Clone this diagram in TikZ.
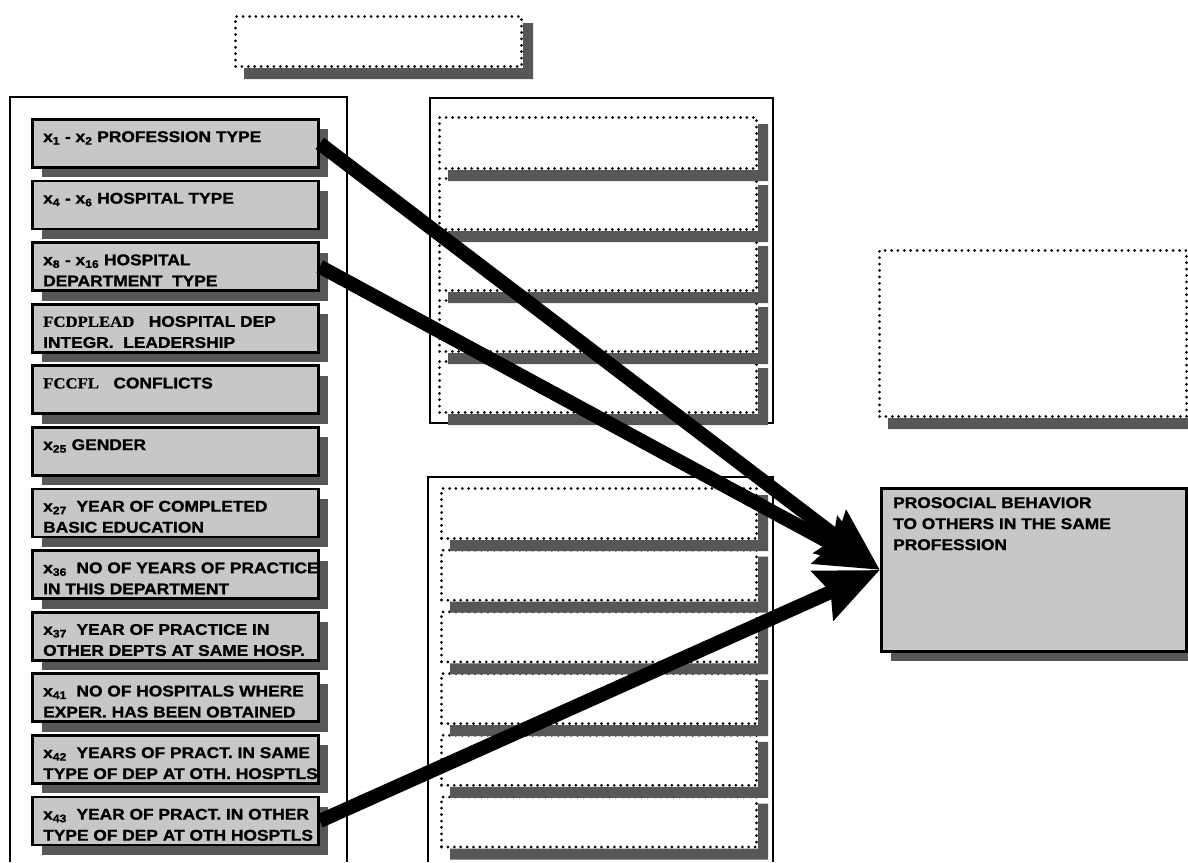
\documentclass[tikz,border=0pt]{standalone}
\usepackage{fontspec}
\setmainfont{Liberation Sans}[FakeStretch=1.12, FakeBold=1.2]
\newfontfamily\codefont{Liberation Serif}[FakeStretch=1.08, FakeBold=0.6]
\usetikzlibrary{arrows.meta,shadows,calc}

\tikzset{
  shade/.style={fill=black!66},
  shadowed/.style={drop shadow={shadow xshift=10pt, shadow yshift=-10pt, opacity=1, fill=black!66}},
  frame/.style={draw, line width=2pt},
  varbox/.style={draw, line width=2.8pt, fill=black!22, shadowed,
    minimum width=286pt, minimum height=48pt, anchor=north west, inner sep=0pt},
  dotbox/.style={draw, line width=3pt, dash pattern=on 0pt off 6.4pt, line cap=round,
    fill=white, anchor=north west, inner sep=0pt},
  vartext/.style={anchor=north west, inner sep=0pt, align=left,
    font=\fontsize{15.5}{21}\selectfont\bfseries},
  effect/.style={line width=14pt, -{Stealth[length=62pt,width=52pt,inset=8pt]}},
}

% L-shaped shadow along the right and lower edges of an open box
\newcommand\stackshadow[1]{%
  \fill[shade] ($(#1.south west)+(10,0)$) -- (#1.south east) -- ($(#1.north east)+(0,8)$)
    -- ($(#1.north east)+(10,8)$) -- ($(#1.south east)+(10,11)$)
    -- ($(#1.south west)+(10,11)$) -- cycle;}

\begin{document}
\begin{tikzpicture}[x=1pt, y=-1pt]
\useasboundingbox (0,0) rectangle (1188,862);

% column frames (open at the bottom edge)
\draw[frame] (10,862) -- (10,97) -- (347,97) -- (347,862);
\draw[frame] (430,98) rectangle (773,423);
\draw[frame] (428,862) -- (428,477) -- (773,477) -- (773,862);

% empty placeholder boxes
\node[dotbox, minimum width=286pt, minimum height=50pt] (top) at (234,15) {};
\stackshadow{top}
\node[dotbox, minimum width=307pt, minimum height=166pt] (side) at (878,249) {};
\stackshadow{side}

\foreach \k in {0,...,4}{
  \node[dotbox, minimum width=317pt, minimum height=51pt] (m\k) at (438,116+61*\k) {};
}
\foreach \k in {0,...,4}{
  \stackshadow{m\k}
}
\foreach \k in {0,...,5}{
  \node[dotbox, minimum width=315pt, minimum height=50pt] (n\k) at (440,487+61.7*\k) {};
}
\foreach \k in {0,...,5}{
  \stackshadow{n\k}
}

% predictor variables
\node[varbox] (b1)  at (31,118.0) {};
\node[varbox] (b2)  at (31,179.6) {};
\node[varbox] (b3)  at (31,241.2) {};
\node[varbox] (b4)  at (31,302.8) {};
\node[varbox] (b5)  at (31,364.4) {};
\node[varbox] (b6)  at (31,426.0) {};
\node[varbox] (b7)  at (31,487.6) {};
\node[varbox] (b8)  at (31,549.2) {};
\node[varbox] (b9)  at (31,610.8) {};
\node[varbox] (b10) at (31,672.4) {};
\node[varbox] (b11) at (31,734.0) {};
\node[varbox] (b12) at (31,795.6) {};

\node[vartext] (t1)  at (43,131.0) {x\textsubscript{1} - x\textsubscript{2} PROFESSION TYPE};
\node[vartext] (t2)  at (43,192.6) {x\textsubscript{4} - x\textsubscript{6} HOSPITAL TYPE};
\node[vartext] (t3)  at (43,254.2) {x\textsubscript{8} - x\textsubscript{16} HOSPITAL\\DEPARTMENT\ \ TYPE};
\node[vartext] (t4)  at (43,315.8) {{\codefont FCDPLEAD}\ \ \ HOSPITAL DEP\\INTEGR.\ \ LEADERSHIP};
\node[vartext] (t5)  at (43,377.4) {{\codefont FCCFL}\ \ \ CONFLICTS};
\node[vartext] (t6)  at (43,439.0) {x\textsubscript{25} GENDER};
\node[vartext] (t7)  at (43,500.6) {x\textsubscript{27}\ \ YEAR OF COMPLETED\\BASIC EDUCATION};
\node[vartext] (t8)  at (43,562.2) {x\textsubscript{36}\ \ NO OF YEARS OF PRACTICE\\IN THIS DEPARTMENT};
\node[vartext] (t9)  at (43,623.8) {x\textsubscript{37}\ \ YEAR OF PRACTICE IN\\OTHER DEPTS AT SAME HOSP.};
\node[vartext] (t10) at (43,685.4) {x\textsubscript{41}\ \ NO OF HOSPITALS WHERE\\EXPER. HAS BEEN OBTAINED};
\node[vartext] (t11) at (43,747.0) {x\textsubscript{42}\ \ YEARS OF PRACT. IN SAME\\TYPE OF DEP AT OTH. HOSPTLS};
\node[vartext] (t12) at (43,808.6) {x\textsubscript{43}\ \ YEAR OF PRACT. IN OTHER\\TYPE OF DEP AT OTH HOSPTLS};

% outcome
\node[varbox, minimum width=305pt, minimum height=163pt] (out) at (880,487) {};
\node[vartext] (tout) at (893,497) {PROSOCIAL BEHAVIOR\\TO OTHERS IN THE SAME\\PROFESSION};

% effects
\draw[effect] (b1.east) -- (out.west);
\draw[effect] (b3.east) -- (out.west);
\draw[effect] (b12.east) -- (out.west);
\end{tikzpicture}
\end{document}
